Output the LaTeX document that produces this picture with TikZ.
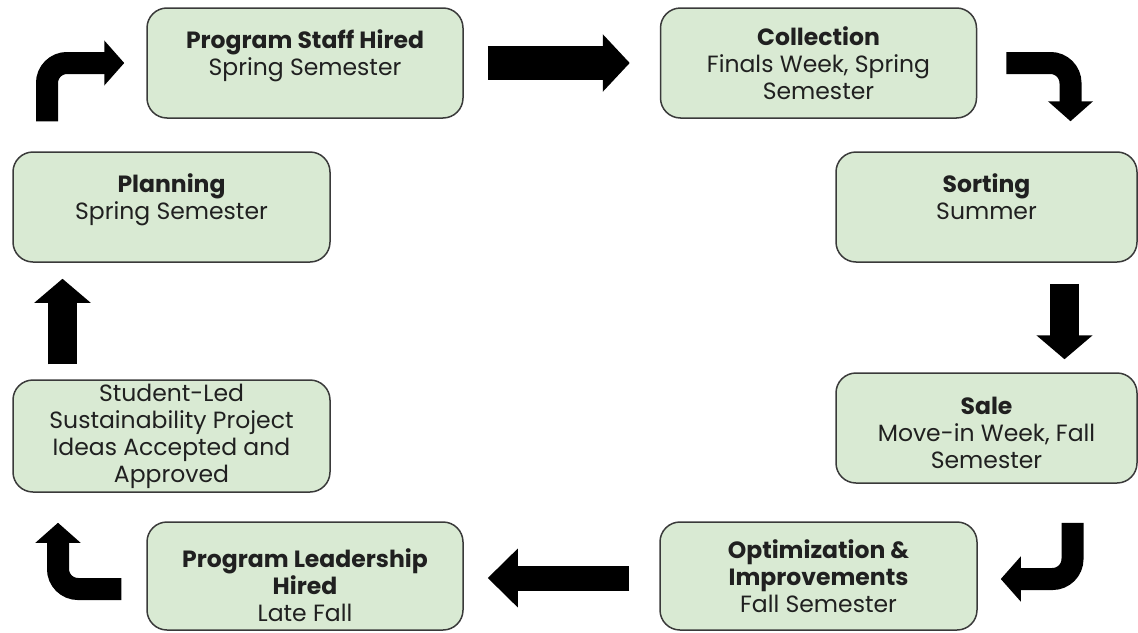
\documentclass[tikz,border=0pt]{standalone}
\usepackage{fontspec}
\setmainfont{Poppins}
\usetikzlibrary{arrows.meta,positioning,calc}
\definecolor{stagefill}{HTML}{D9EAD3}
\definecolor{stageline}{HTML}{3A3A3A}
\definecolor{stagetext}{HTML}{202020}
\newcommand{\lowstrut}[1]{\rule{0pt}{#1}}

\begin{document}
\begin{tikzpicture}
  [x=1pt, y=-1pt, font=\fontsize{23.5}{27}\selectfont, line width=1pt,
   stage/.style={draw=stageline, fill=stagefill, line width=1.5pt,
     rounded corners=20pt, align=center, text=stagetext, inner sep=2pt},
   midbox/.style={stage, minimum width=316pt, minimum height=110pt},
   sidebox/.style={stage, minimum width=317pt, minimum height=110pt},
   rightbox/.style={stage, minimum width=301pt, minimum height=110pt},
   twoline/.style={text depth=20pt},
   blockarrow/.style={line width=34pt, -{Triangle[width=56pt,length=27pt]}},
   thinarrow/.style={line width=25pt, -{Triangle[width=57pt,length=30pt]}},
   uparrow/.style={line width=29pt, -{Triangle[width=55pt,length=24pt]}},
   bendarrow/.style={line width=22pt, rounded corners=20pt,
     -{Triangle[width=44pt,length=20pt]}}]

\useasboundingbox (0,0) rectangle (1138,632);

\node[midbox, twoline] (staff) at (305,63) {\textbf{Program Staff Hired}\\Spring Semester};
\node[midbox] (collect) at (818.5,63) {\textbf{Collection}\\Finals Week, Spring\\Semester};
\node[sidebox, twoline] (plan) at (171.5,207) {\textbf{Planning}\\Spring Semester};
\node[rightbox, twoline] (sort) at (986.5,207) {\textbf{Sorting}\\Summer};
\node[sidebox, minimum height=112pt] (ideas) at (171.5,436) {Student-Led\\Sustainability Project\\Ideas Accepted and\\Approved};
\node[rightbox] (sale) at (986.5,428) {\lowstrut{27pt}\textbf{Sale}\\Move-in Week, Fall\\Semester};
\node[midbox, minimum height=108pt] (lead) at (305,576) {\lowstrut{37pt}\textbf{Program Leadership}\\\textbf{Hired}\\Late Fall};
\node[midbox, minimum width=317pt, minimum height=108pt] (optim) at (818.5,576) {\textbf{Optimization \&}\\\textbf{Improvements}\\Fall Semester};

\draw[blockarrow, shorten <=24pt, shorten >=30pt] (staff) -- (collect);
\draw[bendarrow] ([xshift=29pt]collect.east) -| ([xshift=84pt,yshift=30pt]sort.north);
\draw[uparrow] ([xshift=78pt,yshift=-21pt]sort.south) -- ([xshift=78pt,yshift=13pt]sale.north);
\draw[bendarrow] ([xshift=86pt,yshift=-39pt]sale.south) |- ([xshift=23pt,yshift=-3pt]optim.east);
\draw[thinarrow] ([xshift=-30pt,yshift=-2pt]optim.west) -- ([xshift=24pt,yshift=-2pt]lead.east);
\draw[bendarrow] ([xshift=-25pt,yshift=-13pt]lead.west) -| ([xshift=-113.5pt,yshift=-30pt]ideas.south);
\draw[uparrow] ([xshift=-109pt,yshift=15pt]ideas.north) -- ([xshift=-109pt,yshift=-16pt]plan.south);
\draw[bendarrow] ([xshift=-124.5pt,yshift=30pt]plan.north) |- ([xshift=-22pt]staff.west);
\end{tikzpicture}
\end{document}
